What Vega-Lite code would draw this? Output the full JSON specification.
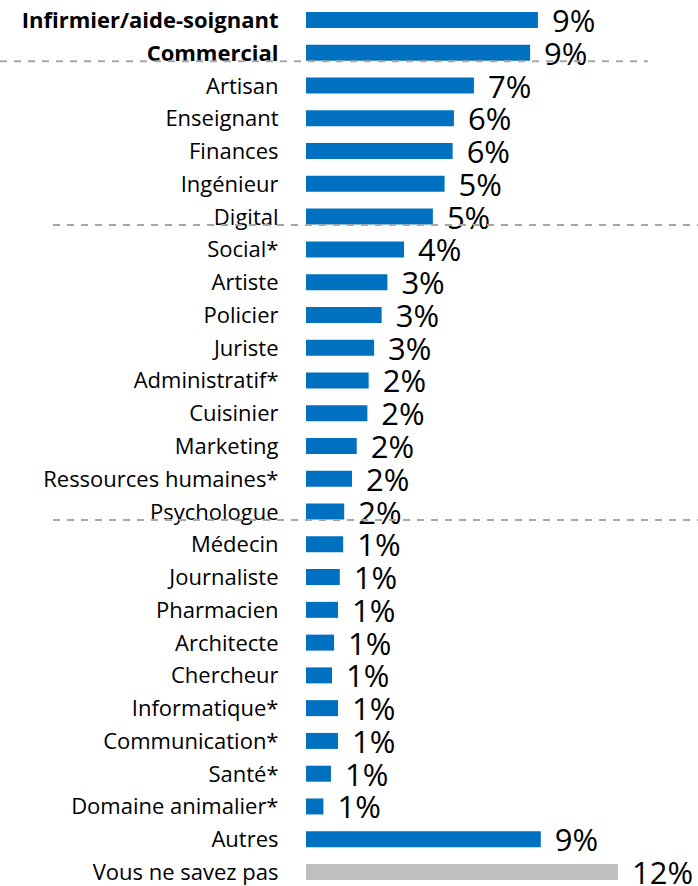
{
  "$schema": "https://vega.github.io/schema/vega-lite/v6.json",
  "width": 698,
  "height": 886,
  "autosize": {"type": "none"},
  "padding": 0,
  "background": "white",
  "config": {"view": {"stroke": null}, "font": "Open Sans"},
  "datasets": {
    "jobs": [
      {"metier": "Infirmier/aide-soignant", "pct": 8.92, "label": "9%", "groupe": "main"},
      {"metier": "Commercial", "pct": 8.62, "label": "9%", "groupe": "main"},
      {"metier": "Artisan", "pct": 6.46, "label": "7%", "groupe": "main"},
      {"metier": "Enseignant", "pct": 5.69, "label": "6%", "groupe": "main"},
      {"metier": "Finances", "pct": 5.64, "label": "6%", "groupe": "main"},
      {"metier": "Ingénieur", "pct": 5.33, "label": "5%", "groupe": "main"},
      {"metier": "Digital", "pct": 4.88, "label": "5%", "groupe": "main"},
      {"metier": "Social*", "pct": 3.77, "label": "4%", "groupe": "main"},
      {"metier": "Artiste", "pct": 3.13, "label": "3%", "groupe": "main"},
      {"metier": "Policier", "pct": 2.91, "label": "3%", "groupe": "main"},
      {"metier": "Juriste", "pct": 2.62, "label": "3%", "groupe": "main"},
      {"metier": "Administratif*", "pct": 2.41, "label": "2%", "groupe": "main"},
      {"metier": "Cuisinier", "pct": 2.36, "label": "2%", "groupe": "main"},
      {"metier": "Marketing", "pct": 1.95, "label": "2%", "groupe": "main"},
      {"metier": "Ressources humaines*", "pct": 1.77, "label": "2%", "groupe": "main"},
      {"metier": "Psychologue", "pct": 1.47, "label": "2%", "groupe": "main"},
      {"metier": "Médecin", "pct": 1.43, "label": "1%", "groupe": "main"},
      {"metier": "Journaliste", "pct": 1.3, "label": "1%", "groupe": "main"},
      {"metier": "Pharmacien", "pct": 1.23, "label": "1%", "groupe": "main"},
      {"metier": "Architecte", "pct": 1.08, "label": "1%", "groupe": "main"},
      {"metier": "Chercheur", "pct": 1.0, "label": "1%", "groupe": "main"},
      {"metier": "Informatique*", "pct": 1.23, "label": "1%", "groupe": "main"},
      {"metier": "Communication*", "pct": 1.23, "label": "1%", "groupe": "main"},
      {"metier": "Santé*", "pct": 0.96, "label": "1%", "groupe": "main"},
      {"metier": "Domaine animalier*", "pct": 0.67, "label": "1%", "groupe": "main"},
      {"metier": "Autres", "pct": 9.03, "label": "9%", "groupe": "main"},
      {"metier": "Vous ne savez pas", "pct": 12.0, "label": "12%", "groupe": "nsp"}
    ],
    "separateurs": [
      {"apres": "Artisan", "debut": -11.77, "fin": 13.15},
      {"apres": "Social*", "debut": -9.73, "fin": 15.08},
      {"apres": "Médecin", "debut": -9.73, "fin": 15.08}
    ]
  },
  "layer": [
    {
      "data": {"name": "jobs"},
      "mark": {"type": "bar"},
      "encoding": {
        "y": {
          "field": "metier", "type": "nominal", "sort": null,
          "scale": {
            "domain": ["Infirmier/aide-soignant", "Commercial", "Artisan", "Enseignant", "Finances", "Ingénieur", "Digital", "Social*", "Artiste", "Policier", "Juriste", "Administratif*", "Cuisinier", "Marketing", "Ressources humaines*", "Psychologue", "Médecin", "Journaliste", "Pharmacien", "Architecte", "Chercheur", "Informatique*", "Communication*", "Santé*", "Domaine animalier*", "Autres", "Vous ne savez pas"],
            "range": [12, 880], "paddingInner": 0.512, "paddingOuter": 0
          },
          "axis": {
            "title": null, "domain": false, "ticks": false,
            "offset": -306, "labelPadding": 28, "labelFontSize": 22, "labelLimit": 0,
            "labelColor": "#000000", "labelFont": "Open Sans", "labelOffset": 1,
            "labelFontWeight": {"condition": {"test": "datum.value === 'Infirmier/aide-soignant' || datum.value === 'Commercial'", "value": "bold"}, "value": "normal"}
          }
        },
        "x": {
          "field": "pct", "type": "quantitative",
          "scale": {"domain": [0, 15.077], "range": [306, 698], "nice": false, "zero": true},
          "axis": null
        },
        "color": {
          "field": "groupe", "type": "nominal",
          "scale": {"domain": ["main", "nsp"], "range": ["#0070C0", "#BFBFBF"]},
          "legend": null
        }
      }
    },
    {
      "data": {"name": "jobs"},
      "mark": {"type": "text", "align": "left", "baseline": "middle", "dx": 14, "dy": 3, "fontSize": 31, "font": "Open Sans", "color": "#000000"},
      "encoding": {
        "y": {"field": "metier", "type": "nominal", "sort": null},
        "x": {"field": "pct", "type": "quantitative"},
        "text": {"field": "label"}
      }
    },
    {
      "data": {"name": "separateurs"},
      "mark": {"type": "rule", "color": "#A6A6A6", "strokeWidth": 2, "strokeDash": [7, 7]},
      "encoding": {
        "y": {"field": "apres", "type": "nominal", "bandPosition": 0.5},
        "yOffset": {"value": -16.4},
        "x": {"field": "debut", "type": "quantitative"},
        "x2": {"field": "fin"}
      }
    }
  ]
}
